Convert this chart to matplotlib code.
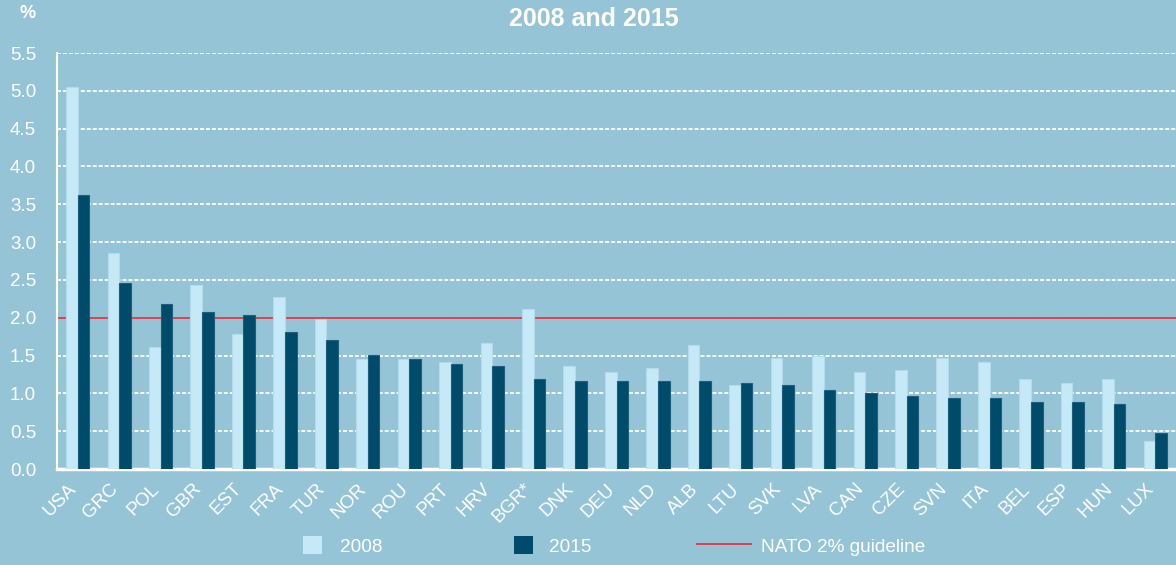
import numpy as np
import matplotlib
matplotlib.use("Agg")
import matplotlib.pyplot as plt
import matplotlib.transforms as mtransforms
from matplotlib.patches import Patch
from matplotlib.lines import Line2D

countries = ["USA", "GRC", "POL", "GBR", "EST", "FRA", "TUR", "NOR", "ROU", "PRT",
             "HRV", "BGR*", "DNK", "DEU", "NLD", "ALB", "LTU", "SVK", "LVA", "CAN",
             "CZE", "SVN", "ITA", "BEL", "ESP", "HUN", "LUX"]
y2008 = [5.05, 2.86, 1.61, 2.43, 1.79, 2.27, 1.98, 1.45, 1.45, 1.42,
         1.67, 2.12, 1.36, 1.28, 1.34, 1.64, 1.11, 1.47, 1.50, 1.28,
         1.31, 1.47, 1.42, 1.19, 1.14, 1.19, 0.37]
y2015 = [3.62, 2.46, 2.18, 2.07, 2.04, 1.81, 1.70, 1.51, 1.45, 1.39,
         1.36, 1.19, 1.16, 1.16, 1.16, 1.16, 1.14, 1.11, 1.05, 1.00,
         0.97, 0.94, 0.94, 0.88, 0.88, 0.86, 0.47]
guideline = 2.0

bg = "#95c4d7"
light = "#c6e9f8"
dark = "#004a6a"
red = "#e0404c"

plt.rcParams['font.family'] = ['Liberation Sans', 'DejaVu Sans']

fig = plt.figure(figsize=(11.76, 5.65), dpi=100, facecolor=bg)
ax = fig.add_axes([57/1176, 1-469/565, 1-57/1176, (469-53)/565])
ax.set_facecolor(bg)

x = np.arange(len(countries))
w = 0.28
ax.bar(x - w/2, y2008, w, color=light, edgecolor="#b3dbec", linewidth=0.8, zorder=3)
ax.bar(x + w/2, y2015, w, color=dark, edgecolor="#1d5f7c", linewidth=0.8, zorder=3)
ax.axhline(guideline, color=red, lw=1.4, zorder=2)

ax.set_xlim(-0.5, len(countries) - 0.5)
ax.set_ylim(0, 5.5)
yt = np.arange(0, 5.51, 0.5)
ax.set_yticks(yt)
ax.set_yticklabels([f"{v:.1f}" for v in yt])
ax.yaxis.grid(True, color="white", linestyle=(0, (2.2, 1.1)), lw=1.3, zorder=1)
ax.set_axisbelow(True)
ax.set_xticks(x)
ax.set_xticklabels(countries, rotation=45, ha="right", va="center", rotation_mode="anchor")
ax.tick_params(axis="both", length=0, colors="white", labelsize=13.5)
ax.tick_params(axis="x", pad=12.5)
ax.tick_params(axis="y", pad=15)
shift = mtransforms.ScaledTranslation(-4/100, 0, fig.dpi_scale_trans)
for lbl in ax.get_xticklabels():
    lbl.set_transform(lbl.get_transform() + shift)

for s in ["top", "right"]:
    ax.spines[s].set_visible(False)
ax.spines["left"].set_color("white")
ax.spines["left"].set_linewidth(1.5)
ax.spines["bottom"].set_color("white")
ax.spines["bottom"].set_linewidth(2.5)

fig.text(594/1176, 1-18.5/565, "2008 and 2015", color="white", fontsize=18,
         fontweight="bold", ha="center", va="center")
fig.text(27.5/1176, 1-14/565, "%", color="white", fontsize=13, fontweight="bold",
         ha="center", va="center")

# legend, three separate entries
entries = [
    (Patch(facecolor=light, edgecolor="none"), "2008", 303, 1.0, 0.95),
    (Patch(facecolor=dark, edgecolor="none"), "2015", 514, 1.0, 0.85),
    (Line2D([], [], color=red, lw=1.4), "NATO 2% guideline", 697, 2.85, 0.5),
]
for h, lab, px, hl, tp in entries:
    leg = fig.legend(handles=[h], labels=[lab], loc="center left",
                     bbox_to_anchor=(px/1176, 1-546/565), frameon=False,
                     borderpad=0, borderaxespad=0, handlelength=hl, handleheight=1.0,
                     handletextpad=tp, fontsize=13.7)
    for t in leg.get_texts():
        t.set_color("white")

fig.savefig("out.png", dpi=100, facecolor=bg)
